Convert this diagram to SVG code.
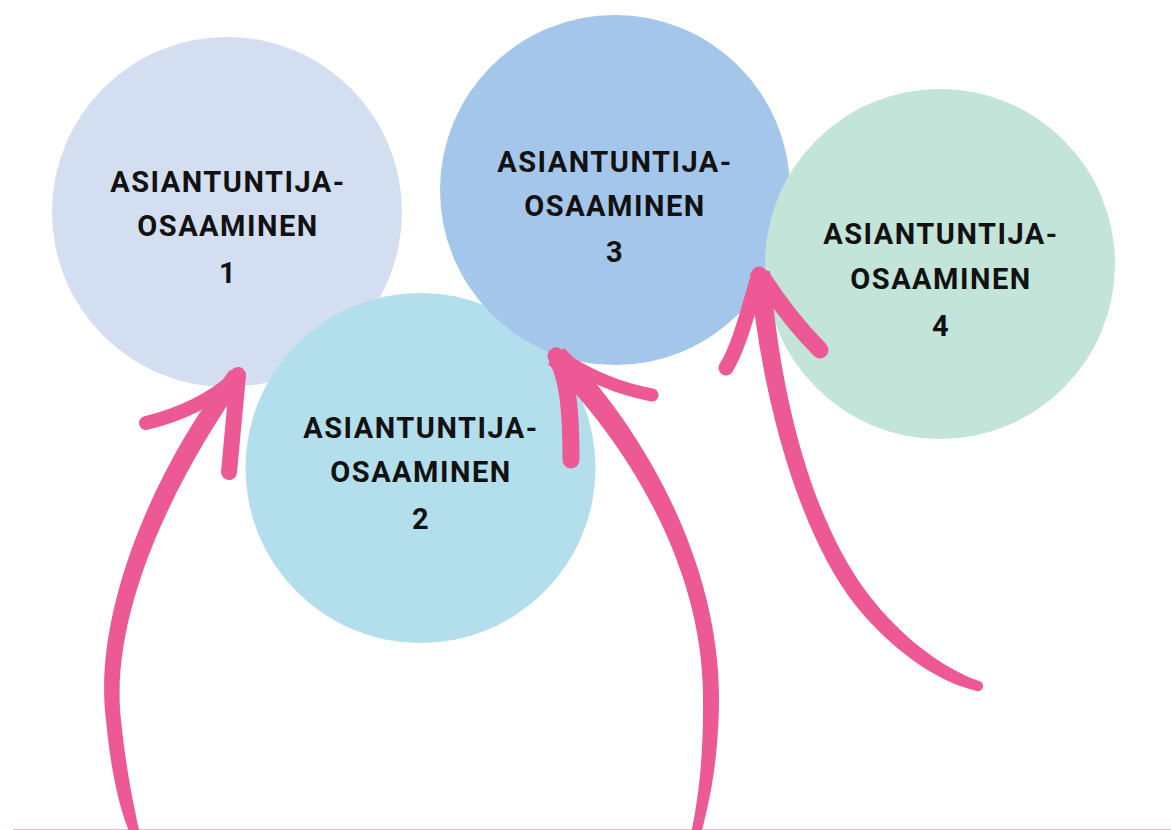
<svg xmlns="http://www.w3.org/2000/svg" width="1171" height="830" viewBox="0 0 1171 830">
  <style>
    .label { font-family: Roboto, "Liberation Sans", Arial, sans-serif; font-weight: 700; font-size: 29px; letter-spacing: 1.5px; fill: #111111; text-anchor: middle; }
    .shaft { fill: #ED5995; }
    .barb { fill: none; stroke: #ED5995; stroke-linecap: round; stroke-linejoin: round; }
  </style>
  <rect width="1171" height="830" fill="#ffffff"/>
  <line x1="13" y1="829.5" x2="1171" y2="829.5" stroke="#F2B3CB" stroke-width="1"/>

  <g id="node-1">
    <circle cx="227" cy="212" r="175" fill="#D3DEF1"/>
    <text class="label" x="228" y="192">ASIANTUNTIJA-</text>
    <text class="label" x="228" y="236">OSAAMINEN</text>
    <text class="label" x="228" y="283">1</text>
  </g>
  <g id="node-2">
    <circle cx="420.5" cy="468" r="175" fill="#B3DFEC"/>
    <text class="label" x="421" y="438">ASIANTUNTIJA-</text>
    <text class="label" x="421" y="482">OSAAMINEN</text>
    <text class="label" x="421" y="529">2</text>
  </g>
  <g id="node-3">
    <circle cx="615" cy="190" r="175" fill="#A4C6EA"/>
    <text class="label" x="615" y="172">ASIANTUNTIJA-</text>
    <text class="label" x="615" y="216">OSAAMINEN</text>
    <text class="label" x="615" y="262">3</text>
  </g>
  <g id="node-4">
    <circle cx="940" cy="264" r="175" fill="#C3E4D9"/>
    <text class="label" x="941" y="244">ASIANTUNTIJA-</text>
    <text class="label" x="941" y="289">OSAAMINEN</text>
    <text class="label" x="941" y="336">4</text>
  </g>

  <g id="connectors">
    <!-- brush arrow pointing at node 1 -->
    <g id="arrow-1">
      <path class="shaft" d="M 230 370 C 157 464 92 610 106 720 C 111 772 119 807 130 834 L 140 834 C 133 803 126 768 121 720 C 109 612 175 478 246 378 Z"/>
      <path class="barb" stroke-width="14" d="M 236 378 Q 200 410 146 423"/>
      <path class="barb" stroke-width="16" d="M 238 375 L 229 472"/>
    </g>
    <!-- brush arrow pointing at node 3 from below -->
    <g id="arrow-2">
      <path class="shaft" d="M 564 348 C 638 422 720 558 719 700 C 718.5 760 710 800 701 834 L 691 834 C 698 800 703.5 760 703 700 C 704 562 622 438 548 364 Z"/>
      <path class="barb" stroke-width="17" d="M 556 356 C 566 375 571 400 571 460"/>
      <path class="barb" stroke-width="13" d="M 556 354 Q 600 385 652 395"/>
    </g>
    <!-- brush arrow pointing between nodes 3 and 4 -->
    <g id="arrow-3">
      <path class="shaft" d="M 770 271 C 780 398 812 520 868 594 C 903 639 943 668 979 681 A 5 5 0 0 1 977 691 C 937 682 893 651 856 606 C 800 535 762 402 750 273 Z"/>
      <path class="barb" stroke-width="15" d="M 759 274 C 748 310 740 345 726 368"/>
      <path class="barb" stroke-width="17" d="M 762 277 Q 790 320 820 350"/>
    </g>
  </g>
</svg>
